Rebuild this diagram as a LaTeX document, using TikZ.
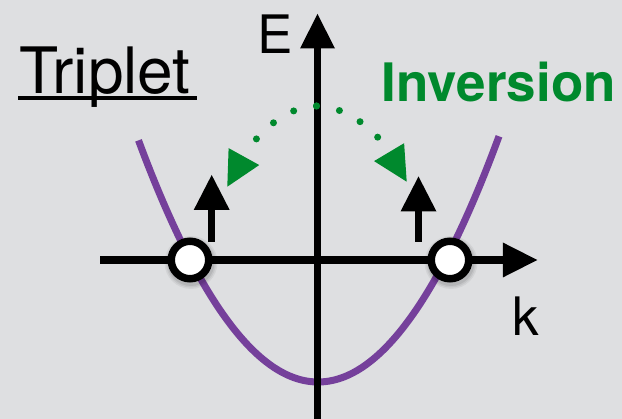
\documentclass[tikz,border=0pt]{standalone}
\usepackage{fontspec}
\setmainfont{TeX Gyre Heros}
\usetikzlibrary{arrows.meta}
\definecolor{bg}{RGB}{222,223,225}
\definecolor{inv}{RGB}{0,137,45}
\definecolor{band}{RGB}{117,64,155}
\begin{document}
\begin{tikzpicture}[x=1pt,y=-1pt,
  axis/.style={line width=7.5pt, -{Triangle[length=34.5pt,width=35pt,line width=0pt]}},
  spin/.style={line width=7pt, -{Triangle[length=35pt,width=36pt,line width=0pt]}},
  inversion/.style={inv, line width=7pt, line cap=round, dash pattern=on 0pt off 23.5pt, -{Triangle[length=34.4pt,width=35pt,line width=0pt,fill=inv]}},
  crossing/.style={circle, draw=black, fill=white, line width=7.5pt, minimum size=37.5pt, inner sep=0pt},
  lbl/.style={inner sep=0pt, anchor=base west}]
\useasboundingbox[fill=bg] (0,0) rectangle (622,419);
% band
\draw[band, line width=7pt, domain=-179.5:181, samples=120] plot ({318+\x},{382-75*(\x/100)^2});
% axes
\coordinate (yb) at (317.5,425);
\coordinate (yt) at (317.5,14);
\coordinate (xl) at (100,260);
\coordinate (xr) at (537.3,260);
\draw[axis] (yb) -- (yt);
\draw[axis] (xl) -- (xr);
% inversion arrows
\coordinate (apex) at (316.5,106);
\coordinate (gl) at (227.3,186.7);
\coordinate (gr) at (406.7,181.7);
\draw[inversion] (apex) .. controls (286.8,106) and (257,132.9) .. (gl);
\draw[inversion] (apex) .. controls (346.6,106) and (376.6,131.2) .. (gr);
% spins
\coordinate (s1b) at (211.7,242);
\coordinate (s1t) at (211.7,175);
\coordinate (s2b) at (418.5,242);
\coordinate (s2t) at (418.5,176.5);
\draw[spin] (s1b) -- (s1t);
\draw[spin] (s2b) -- (s2t);
% shadows
\foreach \cx in {190,450}{
  \foreach \r/\o in {26.5/0.05, 25/0.06, 23.5/0.08}
    \fill[black, opacity=\o] (\cx+1,262.5) circle (\r);
}
% crossing points
\node[crossing] (c1) at (190,260) {};
\node[crossing] (c2) at (450,260) {};
% labels
\node[lbl, font=\fontsize{64}{64}\selectfont] (trip) at (19,93.3) {Triplet};
\coordinate (ul) at (18.3,97.8);
\coordinate (ur) at (196.7,97.8);
\draw[line width=3.5pt] (ul) -- (ur);
\node[lbl, font=\fontsize{53}{53}\selectfont\bfseries, text=inv] (invl) at (381.6,101.7) {Inversion};
\node[lbl, font=\fontsize{53}{53}\selectfont] (E) at (257.5,53.3) {E};
\node[lbl, font=\fontsize{53}{53}\selectfont] (k) at (512.5,336) {k};
\end{tikzpicture}
\end{document}
